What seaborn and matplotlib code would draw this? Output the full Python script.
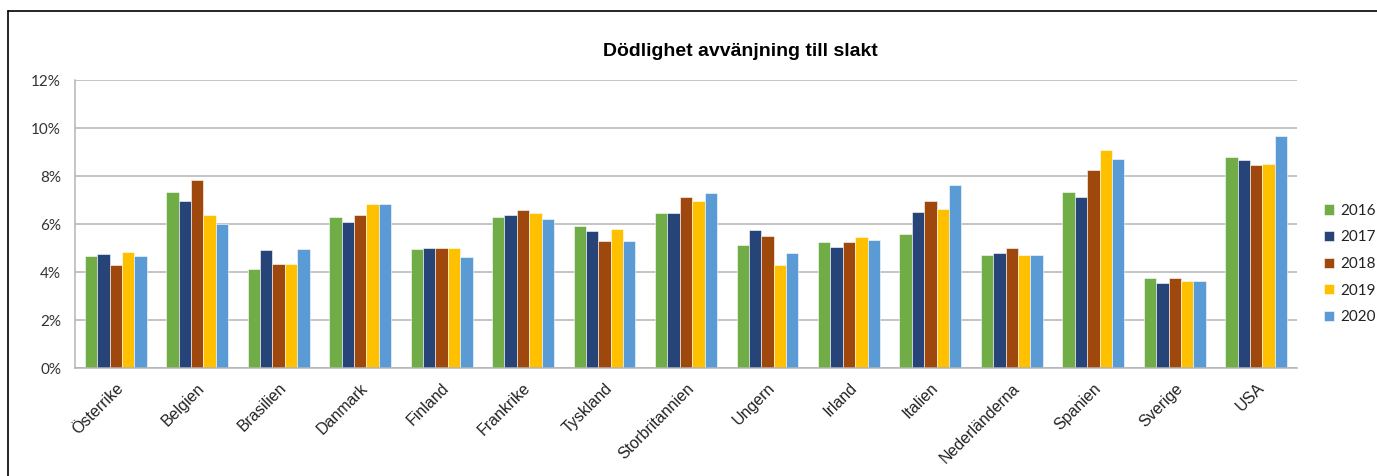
import matplotlib
matplotlib.use("Agg")
import matplotlib.pyplot as plt
from matplotlib.lines import Line2D
from matplotlib.ticker import FuncFormatter, MultipleLocator
import seaborn as sns
import pandas as pd

countries = ["Österrike", "Belgien", "Brasilien", "Danmark", "Finland", "Frankrike",
             "Tyskland", "Storbritannien", "Ungern", "Irland", "Italien",
             "Nederländerna", "Spanien", "Sverige", "USA"]
years = ["2016", "2017", "2018", "2019", "2020"]

v2016 = [4.66, 7.34, 4.12, 6.28, 4.94, 6.28, 5.90, 6.46, 5.14, 5.25, 5.60, 4.72, 7.34, 3.73, 8.80]
v2017 = [4.73, 6.97, 4.93, 6.08, 5.01, 6.38, 5.69, 6.46, 5.76, 5.04, 6.50, 4.80, 7.11, 3.55, 8.65]
v2018 = [4.29, 7.84, 4.34, 6.38, 5.01, 6.57, 5.30, 7.11, 5.49, 5.25, 6.97, 5.01, 8.27, 3.73, 8.44]
v2019 = [4.83, 6.36, 4.34, 6.85, 5.01, 6.46, 5.78, 6.95, 4.29, 5.46, 6.61, 4.72, 9.10, 3.63, 8.51]
v2020 = [4.66, 5.99, 4.96, 6.85, 4.62, 6.22, 5.30, 7.31, 4.80, 5.35, 7.64, 4.72, 8.72, 3.63, 9.65]

colors = ["#70AD47", "#264478", "#9E480E", "#FFC000", "#5B9BD5"]
title = "Dödlighet avvänjning till slakt"

series = [v2016, v2017, v2018, v2019, v2020]
rows = []
for y, vals in zip(years, series):
    for c, v in zip(countries, vals):
        rows.append({"land": c, "year": y, "value": v})
df = pd.DataFrame(rows)

sns.set_theme(style="white")
plt.rcParams["font.family"] = ["Liberation Sans", "DejaVu Sans"]

W, H = 1377, 476
fig = plt.figure(figsize=(W / 100, H / 100), dpi=100)
ax = fig.add_axes([75 / W, 1 - 368 / H, (1297 - 75) / W, (368 - 80) / H])

sns.barplot(data=df, x="land", y="value", hue="year", hue_order=years,
            order=countries, palette=colors, saturation=1, width=0.76,
            gap=0, errorbar=None, edgecolor="white", linewidth=0.4, ax=ax)

ax.set_ylim(0, 12)
ax.set_xlim(-0.5, len(countries) - 0.5)
ax.yaxis.set_major_locator(MultipleLocator(2))
ax.yaxis.set_major_formatter(FuncFormatter(lambda v, p: f"{v:.0f}%"))
ax.set_xlabel("")
ax.set_ylabel("")
ax.grid(axis="y", color="#B4B4B4", linewidth=1.1)
ax.set_axisbelow(True)
for s in ["top", "right"]:
    ax.spines[s].set_visible(False)
for s in ["left", "bottom"]:
    ax.spines[s].set_color("#B4B4B4")
    ax.spines[s].set_linewidth(1.1)
ax.tick_params(axis="both", length=0)
ax.tick_params(axis="y", pad=10)
for lab in ax.get_yticklabels():
    lab.set_fontfamily(["Lato", "DejaVu Sans"])
    lab.set_fontsize(11)
    lab.set_color("#333333")
ax.set_xticks(range(len(countries)))
ax.set_xticklabels(countries, rotation=45, ha="right", rotation_mode="anchor",
                   fontsize=11.5, color="#222222")
ax.tick_params(axis="x", pad=9)

leg = ax.legend(loc="center left", bbox_to_anchor=(1324 / W, 1 - 264 / H),
                bbox_transform=fig.transFigure, frameon=False,
                handlelength=0.65, handleheight=0.65, handletextpad=0.4,
                labelspacing=0.82, borderpad=0, borderaxespad=0)
for t in leg.get_texts():
    t.set_fontfamily(["Lato", "DejaVu Sans"])
    t.set_fontsize(11)
    t.set_color("#222222")

fig.text(740 / W, 1 - 51 / H, title, ha="center", va="center",
         fontsize=14, fontweight="bold", color="#000000")

bx, by = 8 / W, 1 - 11 / H
fig.add_artist(Line2D([bx, bx], [0, by], transform=fig.transFigure, color="black", linewidth=1.2))
fig.add_artist(Line2D([bx, 1], [by, by], transform=fig.transFigure, color="black", linewidth=1.2))

fig.savefig("out.png", dpi=100)
